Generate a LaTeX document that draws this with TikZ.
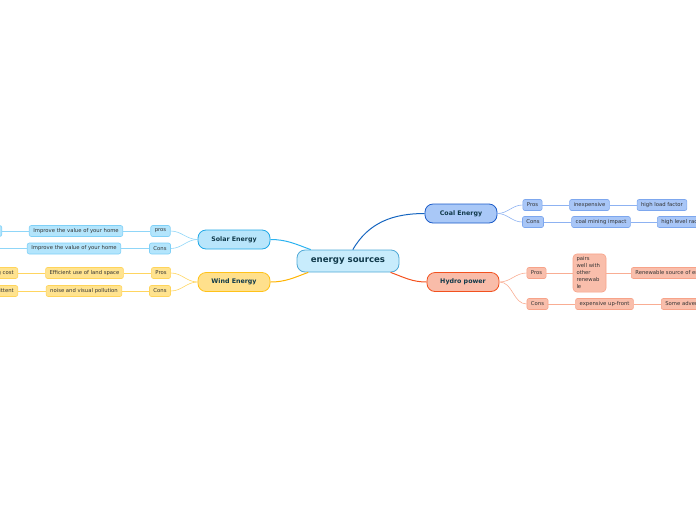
\documentclass[tikz,border=0pt]{standalone}
\usepackage{fontspec}
\setmainfont{DejaVu Sans}
\definecolor{maintext}{HTML}{10394A}
\definecolor{leaftext}{HTML}{333333}
\definecolor{rootfill}{HTML}{C8ECFC}
\definecolor{rootline}{HTML}{4FA9D6}
\definecolor{solarfill}{HTML}{B8E5FB}
\definecolor{solarline}{HTML}{1FA8E6}
\definecolor{solarwire}{HTML}{2DB3F0}
\definecolor{solarleaf}{HTML}{B3E5FC}
\definecolor{solaredge}{HTML}{7FD0F7}
\definecolor{solartwig}{HTML}{8FD6F8}
\definecolor{windfill}{HTML}{FFE08C}
\definecolor{windline}{HTML}{FFC21A}
\definecolor{windwire}{HTML}{FFB300}
\definecolor{windleaf}{HTML}{FFE38F}
\definecolor{windedge}{HTML}{FFD45A}
\definecolor{windtwig}{HTML}{FFD560}
\definecolor{coalfill}{HTML}{A9C8F7}
\definecolor{coalline}{HTML}{1B5BC8}
\definecolor{coalwire}{HTML}{1565C0}
\definecolor{coalleaf}{HTML}{A8C6F7}
\definecolor{coaledge}{HTML}{7DA7EE}
\definecolor{coaltwig}{HTML}{8DB2F2}
\definecolor{hydrofill}{HTML}{F9BCA9}
\definecolor{hydroline}{HTML}{F2511F}
\definecolor{hydrowire}{HTML}{F4511E}
\definecolor{hydroleaf}{HTML}{F9BEAB}
\definecolor{hydroedge}{HTML}{F7A389}
\definecolor{hydrotwig}{HTML}{F9AD93}
\begin{document}
\begin{tikzpicture}[x=1pt,y=-1pt,
    root/.style={draw=rootline, fill=rootfill, rounded corners=8pt, line width=0.8pt,
      minimum width=102pt, minimum height=22pt, text=maintext,
      font=\bfseries\fontsize{8.6}{10}\selectfont},
    branch/.style={draw=#1line, fill=#1fill, rounded corners=8pt, line width=0.8pt,
      minimum width=72pt, minimum height=19pt, text=maintext,
      font=\bfseries\fontsize{6.3}{7.5}\selectfont},
    leaf/.style={draw=#1edge, fill=#1leaf, rounded corners=2pt, line width=0.6pt,
      minimum height=11pt, inner xsep=4pt, inner ysep=1pt, text=leaftext,
      font=\fontsize{5.3}{6}\selectfont},
    wire/.style={#1wire, line width=1pt},
    twig/.style={#1twig, line width=0.6pt}]
    \useasboundingbox (0,0) rectangle (696,520);
    \clip (0,0) rectangle (696,520);
    % centre and the four sources
    \node[root] (es) at (348,261) {energy sources};
    \node[branch=solar] (solar) at (234,239.5) {Solar Energy};
    \node[branch=wind] (wind) at (234,282) {Wind Energy};
    \node[branch=coal] (coal) at (461,213.5) {Coal Energy};
    \node[branch=hydro] (hydro) at (463,282) {Hydro power};
    \draw[wire=solar] (es.163) to[out=160,in=0] (solar.east);
    \draw[wire=wind] (es.196) to[out=200,in=0] (wind.east);
    \draw[wire=coal] (es.67) to[out=60,in=180] (coal.west);
    \draw[wire=hydro] (es.-15) to[out=-20,in=180] (hydro.west);
    % solar
    \node[leaf=solar] (sp) at (160.5,231) {pros};
    \node[leaf=solar] (sc) at (160,248.5) {Cons};
    \node[leaf=solar] (sp1) at (76,231) {Improve the value of your home};
    \node[leaf=solar] (sc1) at (74,248.5) {Improve the value of your home};
    \node[leaf=solar, anchor=east] (sp2) at (2,231) {Lower bills};
    \coordinate (sc2) at (-10,248.5);
    \draw[twig=solar] (solar.west) to[out=180,in=0] (sp.east);
    \draw[twig=solar] (solar.west) to[out=180,in=0] (sc.east);
    \draw[twig=solar] (sp) -- (sp1) -- (sp2);
    \draw[twig=solar] (sc) -- (sc1) -- (sc2);
    % wind
    \node[leaf=wind] (wp) at (161,273) {Pros};
    \node[leaf=wind] (wc) at (160,291) {Cons};
    \node[leaf=wind] (wp1) at (84.5,273) {Efficient use of land space};
    \node[leaf=wind] (wc1) at (84,291) {noise and visual pollution};
    \node[leaf=wind, anchor=east] (wp2) at (18,273) {Low running cost};
    \node[leaf=wind, anchor=east] (wc2) at (18,291) {Intermittent};
    \draw[twig=wind] (wind.west) to[out=180,in=0] (wp.east);
    \draw[twig=wind] (wind.west) to[out=180,in=0] (wc.east);
    \draw[twig=wind] (wp) -- (wp1) -- (wp2);
    \draw[twig=wind] (wc) -- (wc1) -- (wc2);
    % coal
    \node[leaf=coal] (cp) at (532.5,205) {Pros};
    \node[leaf=coal] (cc) at (533,222) {Cons};
    \node[leaf=coal] (cp1) at (589.5,205) {inexpensive};
    \node[leaf=coal] (cc1) at (601,222) {coal mining impact};
    \node[leaf=coal] (cp2) at (662,205) {high load factor};
    \node[leaf=coal, anchor=west] (cc2) at (657,222) {high level radiation};
    \draw[twig=coal] (coal.east) to[out=0,in=180] (cp.west);
    \draw[twig=coal] (coal.east) to[out=0,in=180] (cc.west);
    \draw[twig=coal] (cp) -- (cp1) -- (cp2);
    \draw[twig=coal] (cc) -- (cc1) -- (cc2);
    % hydro
    \node[leaf=hydro] (hp) at (536.5,273) {Pros};
    \node[leaf=hydro] (hc) at (537.5,304) {Cons};
    \node[leaf=hydro, align=left, text width=26pt, inner xsep=3.5pt, inner ysep=3pt,
      rounded corners=4pt, font=\fontsize{5.3}{7}\selectfont] (hp1) at (589.5,273)
      {pairs\\well with\\other\\renewab\\le};
    \node[leaf=hydro] (hc1) at (604.5,304) {expensive up-front};
    \node[leaf=hydro, anchor=west] (hp2) at (631,273) {Renewable source of energy};
    \node[leaf=hydro, anchor=west] (hc2) at (661,304) {Some adverse effects};
    \draw[twig=hydro] (hydro.east) to[out=0,in=180] (hp.west);
    \draw[twig=hydro] (hydro.east) to[out=0,in=180] (hc.west);
    \draw[twig=hydro] (hp) -- (hp1) -- (hp2);
    \draw[twig=hydro] (hc) -- (hc1) -- (hc2);
\end{tikzpicture}
\end{document}
